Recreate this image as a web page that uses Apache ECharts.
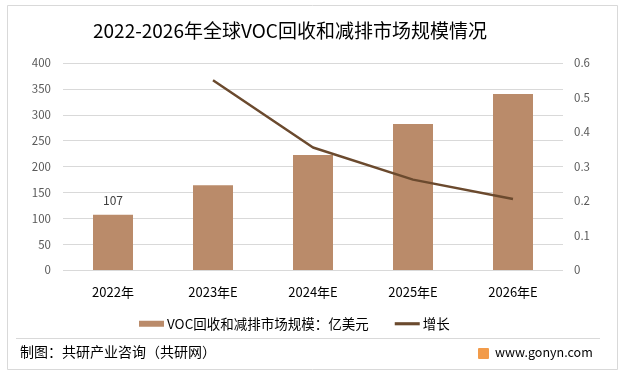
<!DOCTYPE html>
<html>
<head>
<meta charset="utf-8">
<script src="https://cdn.jsdelivr.net/npm/echarts@6/dist/echarts.min.js"></script>
<style>
html, body { margin: 0; padding: 0; background: #fff; }
#chart { width: 625px; height: 375px; }
</style>
</head>
<body>
<div id="chart"></div>
<script>
// 数据
var years = ['2022年', '2023年E', '2024年E', '2025年E', '2026年E'];
var marketSize = [107, 164, 222, 282, 340];
var growth = [null, 0.55, 0.355, 0.262, 0.206];
var leftTicks = [0, 400, 50];
var rightTicks = [0, 0.6, 0.1];

var FONT = '"Noto Sans CJK SC", "Noto Sans", sans-serif';
var myChart = echarts.init(document.getElementById('chart'));
var option = {
	backgroundColor: '#fff',
	textStyle: { fontFamily: FONT },
	title: {
		text: '2022-2026年全球VOC回收和减排市场规模情况',
		left: 88,
		top: 16,
		textStyle: { fontSize: 19, fontWeight: 'normal', color: '#000', fontFamily: FONT }
	},
	legend: {
		top: 312,
		left: 134,
		itemGap: 26,
		itemWidth: 25,
		itemHeight: 6,
		textStyle: { fontSize: 13.5, color: '#000', fontFamily: FONT, padding: [0, 0, 0, -2] },
		data: [
			{ name: 'VOC回收和减排市场规模：亿美元', icon: 'rect' },
			{ name: '增长', icon: 'path://M0,0 L24,0 L24,3 L0,3 Z' }
		]
	},
	grid: { left: 63, right: 62, top: 63, bottom: 105 },
	xAxis: [{
		type: 'category',
		data: years,
		axisLine: { show: false },
		axisTick: { show: false },
		axisLabel: { color: '#000', fontSize: 13, margin: 16, fontFamily: FONT }
	}],
	yAxis: [{
		type: 'value',
		min: leftTicks[0], max: leftTicks[1], interval: leftTicks[2],
		axisLine: { show: false },
		axisTick: { show: false },
		splitLine: { lineStyle: { color: '#d9d9d9', width: 1 } },
		axisLabel: { color: '#595959', fontSize: 11.5, margin: 12 }
	}, {
		type: 'value',
		min: rightTicks[0], max: rightTicks[1], interval: rightTicks[2],
		axisLine: { show: false },
		axisTick: { show: false },
		splitLine: { show: false },
		axisLabel: { color: '#595959', fontSize: 11.5, margin: 11 }
	}],
	series: [{
		name: 'VOC回收和减排市场规模：亿美元',
		type: 'bar',
		barWidth: 40,
		itemStyle: { color: '#ba8b6a' },
		label: {
			show: true,
			position: 'top',
			distance: 8,
			color: '#404040',
			fontSize: 12,
			formatter: function(p) { return p.dataIndex === 0 ? p.value : ''; }
		},
		data: marketSize
	}, {
		name: '增长',
		type: 'line',
		yAxisIndex: 1,
		symbol: 'none',
		lineStyle: { color: '#6b4a2e', width: 2.5 },
		itemStyle: { color: '#6b4a2e' },
		data: growth
	}],
	graphic: [
		{ type: 'rect', shape: { x: 7.5, y: 5.5, width: 610, height: 364 }, style: { fill: 'none', stroke: '#d9d9d9', lineWidth: 1 }, z: -1 },
		{ type: 'line', shape: { x1: 16, y1: 338.5, x2: 600, y2: 338.5 }, style: { stroke: '#d9d9d9', lineWidth: 1 } },
		{ type: 'text', left: 20, top: 345, style: { text: '制图：共研产业咨询（共研网）', fill: '#000', fontSize: 14, fontFamily: FONT } },
		{ type: 'rect', shape: { x: 478, y: 348, width: 11, height: 11, r: 1 }, style: { fill: '#f29b4a' } },
		{ type: 'text', left: 495, top: 346, style: { text: 'www.gonyn.com', fill: '#000', fontSize: 12.5, fontFamily: FONT } }
	]
};
myChart.setOption(option);
window.onresize = myChart.resize;
</script>
</body>
</html>
